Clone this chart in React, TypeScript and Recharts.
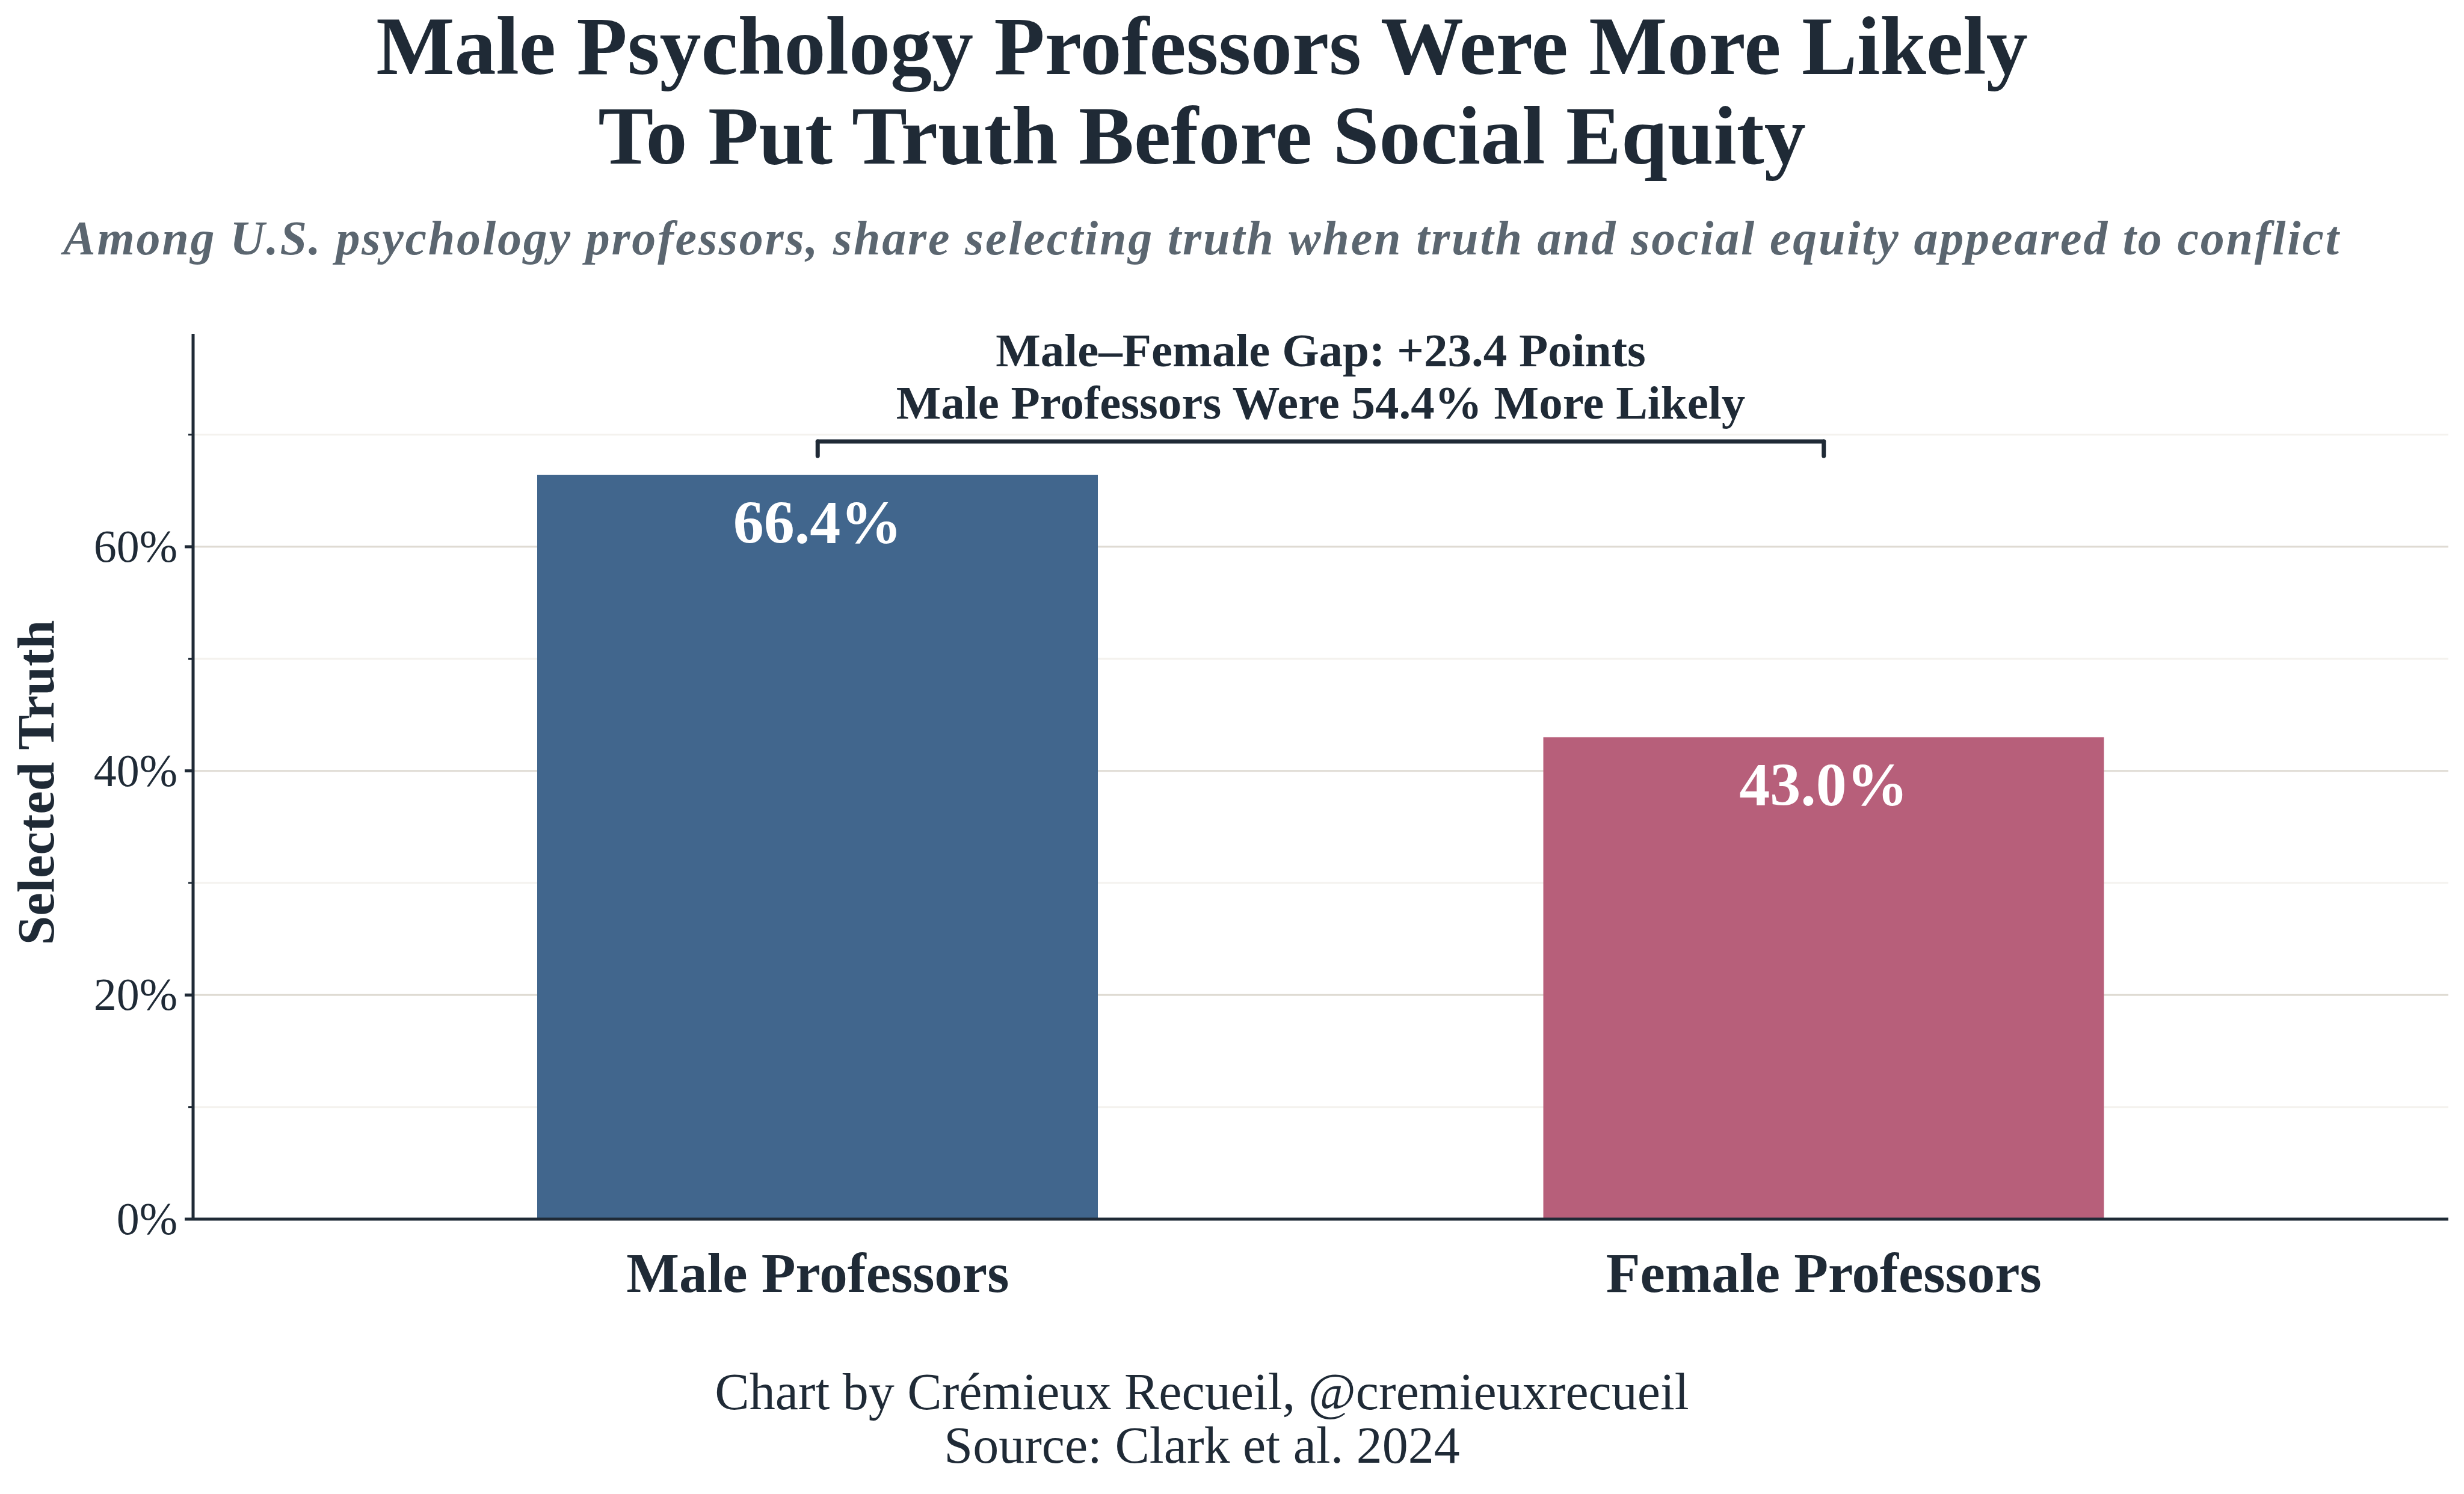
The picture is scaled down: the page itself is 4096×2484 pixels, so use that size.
import React from 'react';
import {
  BarChart,
  Bar,
  XAxis,
  YAxis,
  CartesianGrid,
  Cell,
  LabelList,
  ReferenceLine,
  Label,
} from 'recharts';

const CATEGORIES = ['Male Professors', 'Female Professors'];
const VALUES = [66.4, 43.0];
const BAR_COLORS = ['#41668d', '#b75f7a'];

const Y_TICKS = [0, 10, 20, 30, 40, 50, 60, 70];
const MAJOR_GRID = [20, 40, 60];
const MINOR_GRID = [10, 30, 50, 70];
const Y_MAX = 79;

// bracket over the two bars, in data units
const BRACKET_Y = 69.4;
const BRACKET_TIP = 68.1;
const GAP_LINES = ['Male\u2013Female Gap: +23.4 Points', 'Male Professors Were 54.4% More Likely'];

const TITLE = ['Male Psychology Professors Were More Likely', 'To Put Truth Before Social Equity'];
const SUBTITLE = 'Among U.S. psychology professors, share selecting truth when truth and social equity appeared to conflict';
const FOOTER = ['Chart by Cr\u00e9mieux Recueil, @cremieuxrecueil', 'Source: Clark et al. 2024'];

const data = CATEGORIES.map((name, i) => ({ name, value: VALUES[i] }));

const FONT = "'Liberation Serif', 'Times New Roman', serif";
const INK = '#1f2a36';

const YTick = (props: any) => {
  const { x, y, payload } = props;
  const major = payload.value % 20 === 0;
  return (
    <g>
      <line x1={x - (major ? 14 : 8)} x2={x} y1={y} y2={y} stroke={INK} strokeWidth={major ? 5 : 3} />
      {major && (
        <text x={x - 26} y={y + 25} textAnchor="end" fontFamily={FONT} fontSize={76} fill={INK}>
          {payload.value}%
        </text>
      )}
    </g>
  );
};

const XTick = (props: any) => {
  const { x, y, payload } = props;
  return (
    <text x={x} y={y + 121} textAnchor="middle" fontFamily={FONT} fontSize={93} fontWeight="bold" fill={INK}>
      {payload.value}
    </text>
  );
};

const BarValue = (props: any) => {
  const { x, y, width, value } = props;
  return (
    <text x={x + width / 2} y={y + 113} textAnchor="middle" fontFamily={FONT} fontSize={102} fontWeight="bold" fill="#ffffff">
      {Number(value).toFixed(1)}%
    </text>
  );
};

const GapLabel = (props: any) => {
  const vb = props.viewBox || {};
  const cx = (vb.x || 0) + (vb.width || 0) / 2;
  const y = vb.y || 0;
  return (
    <g>
      <text x={cx} y={y - 125} textAnchor="middle" fontFamily={FONT} fontSize={79} fontWeight="bold" fill={INK}>
        {GAP_LINES[0]}
      </text>
      <text x={cx} y={y - 38} textAnchor="middle" fontFamily={FONT} fontSize={79} fontWeight="bold" fill={INK}>
        {GAP_LINES[1]}
      </text>
    </g>
  );
};

const AxisTitle = (props: any) => {
  const vb = props.viewBox || { x: 0, y: 0, width: 0, height: 0 };
  const cy = vb.y + vb.height / 2 + 10;
  const bx = 89;
  return (
    <text
      x={bx}
      y={cy}
      transform={`rotate(-90, ${bx}, ${cy})`}
      textAnchor="middle"
      fontFamily={FONT}
      fontSize={87}
      fontWeight="bold"
      fill={INK}
    >
      Selected Truth
    </text>
  );
};

export default function App() {
  return (
    <div style={{ position: 'absolute', left: 0, top: 0, width: 4096, height: 2484, background: '#ffffff', overflow: 'hidden' }}>
      <svg width={4096} height={2484} style={{ position: 'absolute', left: 0, top: 0 }}>
        <text x={1998} y={123} textAnchor="middle" fontFamily={FONT} fontSize={138} fontWeight="bold" fill={INK}>
          {TITLE[0]}
        </text>
        <text x={1998} y={272} textAnchor="middle" fontFamily={FONT} fontSize={138} fontWeight="bold" fill={INK}>
          {TITLE[1]}
        </text>
        <text x={1998} y={423} textAnchor="middle" fontFamily={FONT} fontSize={80} fontStyle="italic" fontWeight="bold" letterSpacing={2.8} fill="#5b6670">
          {SUBTITLE}
        </text>
        <text x={1998} y={2343} textAnchor="middle" fontFamily={FONT} fontSize={86} fill={INK}>
          {FOOTER[0]}
        </text>
        <text x={1998} y={2432} textAnchor="middle" fontFamily={FONT} fontSize={86} fill={INK}>
          {FOOTER[1]}
        </text>
      </svg>
      <div style={{ position: 'absolute', left: 0, top: 0 }}>
        <BarChart width={4096} height={2484} data={data} margin={{ top: 555, right: 26, bottom: 317, left: 121 }}>
          <CartesianGrid vertical={false} horizontalValues={MINOR_GRID} stroke="#f4f2ee" strokeWidth={3} />
          <CartesianGrid vertical={false} horizontalValues={MAJOR_GRID} stroke="#dfdbd3" strokeWidth={3} />
          <XAxis
            dataKey="name"
            interval={0}
            height={140}
            padding={{ left: 202, right: 202 }}
            axisLine={{ stroke: INK, strokeWidth: 5 }}
            tickLine={false}
            tickSize={0}
            tickMargin={0}
            tick={<XTick />}
          />
          <YAxis
            type="number"
            domain={[0, Y_MAX]}
            ticks={Y_TICKS}
            interval={0}
            width={200}
            axisLine={{ stroke: INK, strokeWidth: 5 }}
            tickLine={false}
            tickSize={0}
            tickMargin={0}
            tick={<YTick />}
            label={<Label content={<AxisTitle />} />}
          />
          <Bar dataKey="value" barSize={932} isAnimationActive={false}>
            {data.map((d, i) => (
              <Cell key={d.name} fill={BAR_COLORS[i]} />
            ))}
            <LabelList dataKey="value" content={<BarValue />} />
          </Bar>
          <ReferenceLine
            segment={[{ x: CATEGORIES[0], y: BRACKET_Y }, { x: CATEGORIES[1], y: BRACKET_Y }]}
            stroke={INK}
            strokeWidth={7}
            strokeLinecap="round"
          >
            <Label content={<GapLabel />} />
          </ReferenceLine>
          <ReferenceLine
            segment={[{ x: CATEGORIES[0], y: BRACKET_Y }, { x: CATEGORIES[0], y: BRACKET_TIP }]}
            stroke={INK}
            strokeWidth={7}
            strokeLinecap="round"
          />
          <ReferenceLine
            segment={[{ x: CATEGORIES[1], y: BRACKET_Y }, { x: CATEGORIES[1], y: BRACKET_TIP }]}
            stroke={INK}
            strokeWidth={7}
            strokeLinecap="round"
          />
        </BarChart>
      </div>
    </div>
  );
}
